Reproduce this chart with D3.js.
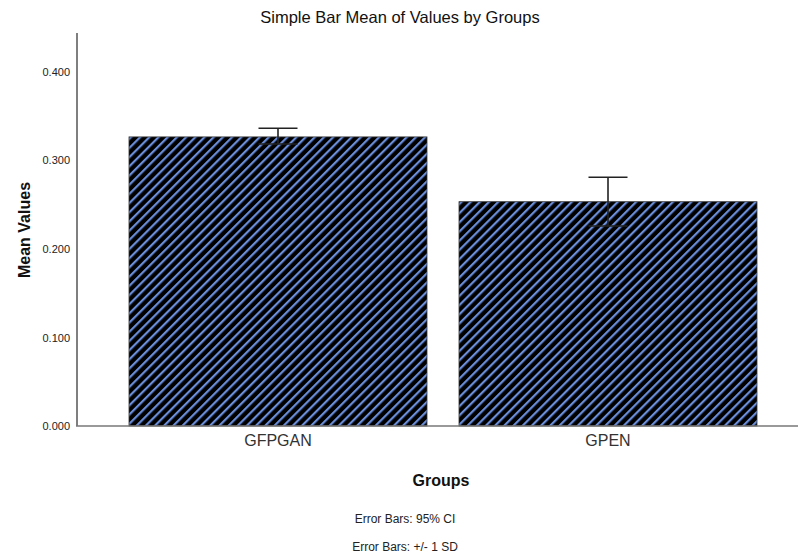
<!DOCTYPE html>
<html>
<head>
<meta charset="utf-8">
<script src="https://cdn.jsdelivr.net/npm/d3@7"></script>
<style>
  html, body { margin: 0; padding: 0; background: #fff; }
  svg { display: block; font-family: "Liberation Sans", Arial, sans-serif; }
</style>
</head>
<body>
<svg id="chart" width="798" height="557"></svg>
<script>
// Group means with their error-bar limits
const groups = ["GFPGAN", "GPEN"];
const means = [0.3266, 0.2534];
const errLow = [0.3186, 0.2260];
const errHigh = [0.3364, 0.2810];
const yTicks = [0, 0.1, 0.2, 0.3, 0.4];
const footnotes = ["Error Bars: 95% CI", "Error Bars: +/- 1 SD"];

const svg = d3.select("#chart");

const x = d3.scaleBand().domain(groups).range([129, 757]).paddingInner(0.097).paddingOuter(0);
const y = d3.scaleLinear().domain([0, 0.444]).range([426, 33]);

// Diagonal hatch fill
const defs = svg.append("defs");
const pat = defs.append("pattern")
  .attr("id", "hatch")
  .attr("patternUnits", "userSpaceOnUse")
  .attr("width", 6.5).attr("height", 6.5)
  .attr("patternTransform", "rotate(45)");
pat.append("rect").attr("width", 6.5).attr("height", 6.5).attr("fill", "#000");
pat.append("rect").attr("x", 0).attr("width", 2.2).attr("height", 6.5).attr("fill", "#6a8edb");

// Title
svg.append("text")
  .attr("x", 400).attr("y", 23)
  .attr("text-anchor", "middle")
  .attr("font-size", 16.5)
  .attr("fill", "#111")
  .text("Simple Bar Mean of Values by Groups");

// Bars
svg.selectAll("rect.bar").data(groups).enter().append("rect")
  .attr("class", "bar")
  .attr("x", d => x(d))
  .attr("width", x.bandwidth())
  .attr("y", (d, i) => y(means[i]))
  .attr("height", (d, i) => y(0) - y(means[i]))
  .attr("fill", "url(#hatch)")
  .attr("stroke", "#333")
  .attr("stroke-width", 0.8);

// Error bars
const capHalf = 19.5;
const cx = d => x(d) + x.bandwidth() / 2;
const eb = svg.selectAll("g.err").data(groups).enter().append("g")
  .attr("class", "err")
  .attr("stroke", "#222")
  .attr("stroke-width", 1.6);
eb.append("line")
  .attr("x1", cx).attr("x2", cx)
  .attr("y1", (d, i) => y(errLow[i])).attr("y2", (d, i) => y(errHigh[i]));
eb.append("line")
  .attr("x1", d => cx(d) - capHalf).attr("x2", d => cx(d) + capHalf)
  .attr("y1", (d, i) => y(errHigh[i])).attr("y2", (d, i) => y(errHigh[i]));
eb.append("line")
  .attr("x1", d => cx(d) - capHalf).attr("x2", d => cx(d) + capHalf)
  .attr("y1", (d, i) => y(errLow[i])).attr("y2", (d, i) => y(errLow[i]));

// Y axis
const yAxis = svg.append("g")
  .attr("transform", "translate(77,0)")
  .call(d3.axisLeft(y).tickValues(yTicks).tickFormat(d3.format(".3f")).tickSize(0).tickPadding(7));
yAxis.select(".domain").remove();
yAxis.selectAll("text").attr("font-size", 11).attr("fill", "#222").attr("font-family", "Liberation Sans, Arial, sans-serif");
svg.append("line").attr("x1", 77).attr("x2", 77).attr("y1", y.range()[1]).attr("y2", y(0))
  .attr("stroke", "#555").attr("stroke-width", 1.5);

// X axis
const xAxis = svg.append("g")
  .attr("transform", `translate(0,${y(0)})`)
  .call(d3.axisBottom(x).tickSize(0).tickPadding(9));
xAxis.select(".domain").remove();
xAxis.selectAll("text").attr("font-size", 16).attr("fill", "#333").attr("font-family", "Liberation Sans, Arial, sans-serif");
svg.append("line").attr("x1", 76).attr("x2", 798).attr("y1", y(0)).attr("y2", y(0))
  .attr("stroke", "#777").attr("stroke-width", 1.5);

// Axis titles
svg.append("text")
  .attr("transform", "translate(30,230) rotate(-90)")
  .attr("text-anchor", "middle")
  .attr("font-size", 16).attr("font-weight", "bold").attr("fill", "#111")
  .text("Mean Values");
svg.append("text")
  .attr("x", 441).attr("y", 486)
  .attr("text-anchor", "middle")
  .attr("font-size", 16).attr("font-weight", "bold").attr("fill", "#111")
  .text("Groups");

// Footnotes
svg.selectAll("text.note").data(footnotes).enter().append("text")
  .attr("class", "note")
  .attr("x", 405)
  .attr("y", (d, i) => 523 + i * 28)
  .attr("text-anchor", "middle")
  .attr("font-size", 12).attr("fill", "#222")
  .text(d => d);
</script>
</body>
</html>
